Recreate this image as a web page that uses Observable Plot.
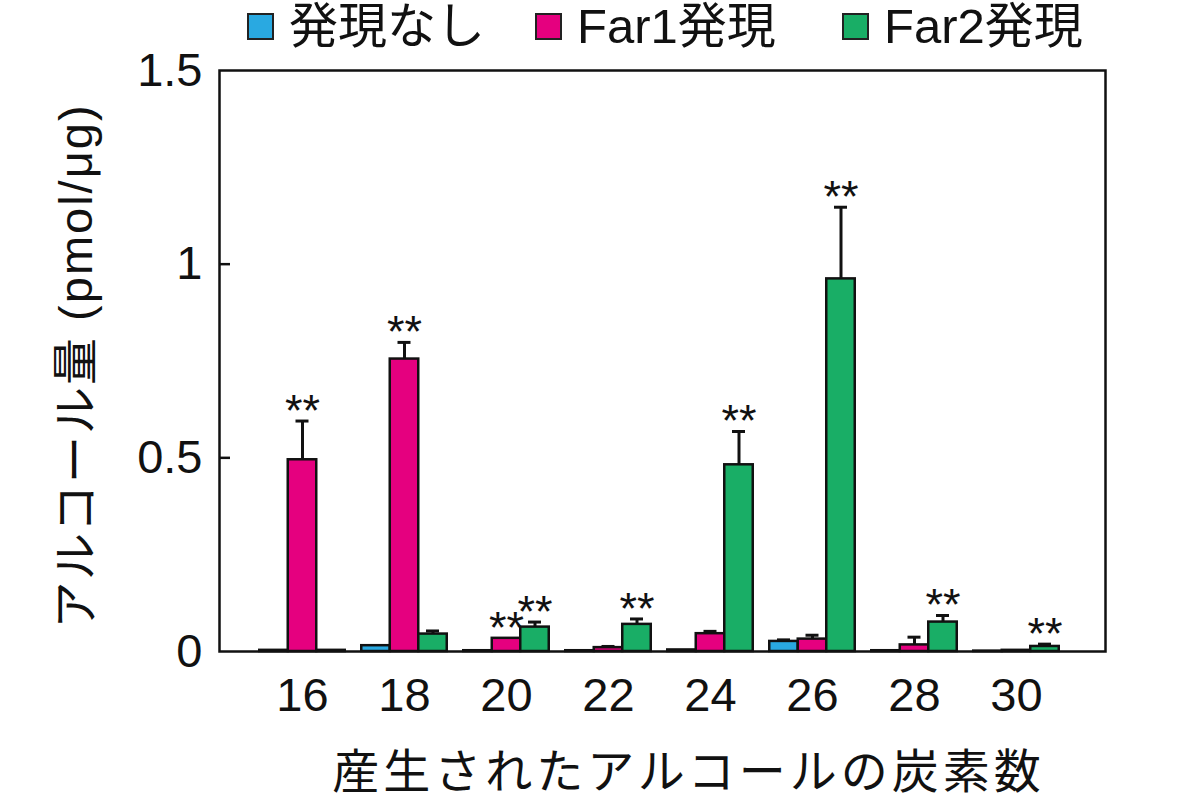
<!DOCTYPE html>
<html><head><meta charset="utf-8">
<script src="https://cdn.jsdelivr.net/npm/d3@7"></script>
<script src="https://cdn.jsdelivr.net/npm/@observablehq/plot@0.6"></script>
<style>
body{margin:0;background:#fff;font-family:"Liberation Sans","Noto Sans CJK JP",sans-serif;color:#111;}
#wrap{position:relative;width:1200px;height:800px;overflow:hidden;}
#legend{position:absolute;top:0;left:0;width:1200px;height:52px;z-index:2;}
.item{position:absolute;top:0;display:flex;align-items:center;height:52px;font-size:49px;line-height:52px;white-space:nowrap;}
.sw{width:23px;height:23px;border:2px solid #222;margin-right:15px;flex:none;}
#chart{position:absolute;top:40px;left:0;z-index:1;}
</style></head>
<body><div id="wrap"><div id="legend"></div><div id="chart"></div></div>
<script>
const groups = ["16","18","20","22","24","26","28","30"];
const seriesNames = ["発現なし","Far1発現","Far2発現"];
const seriesColors = ["#29a9e1","#e5007f","#19ae66"];
const noneValues = [0.003,0.015,0.002,0.002,0.004,0.026,0.002,0.001];
const noneErrors = [0,0,0,0,0,0.004,0,0];
const far1Values = [0.495,0.755,0.034,0.010,0.046,0.032,0.017,0.003];
const far1Errors = [0.100,0.043,0,0.003,0.006,0.010,0.020,0];
const far2Values = [0.003,0.045,0.063,0.070,0.482,0.962,0.076,0.013];
const far2Errors = [0,0.008,0.013,0.014,0.086,0.185,0.017,0.006];
const noneSig = ["","","","","","","",""];
const far1Sig = ["**","**","**","","","","",""];
const far2Sig = ["","","**","**","**","**","**","**"];
const yTicks = [0,0.5,1,1.5];
const yTitle = "アルコール量 (pmol/μg)";
const xTitle = "産生されたアルコールの炭素数";

const legendLeft = [247,535,842];
const leg = document.getElementById("legend");
seriesNames.forEach((n,i)=>{
  const it = document.createElement("div");
  it.className="item"; it.style.left=legendLeft[i]+"px";
  const sw = document.createElement("div"); sw.className="sw"; sw.style.background=seriesColors[i];
  const tx = document.createElement("span"); tx.textContent=n;
  it.appendChild(sw); it.appendChild(tx); leg.appendChild(it);
});

const valueSets=[noneValues,far1Values,far2Values];
const errSets=[noneErrors,far1Errors,far2Errors];
const sigSets=[noneSig,far1Sig,far2Sig];
const barW = 28.5, step = 102;
const inset = (step-barW)/2, capInset = (step-13)/2;
const marks = [];
valueSets.forEach((vals,s)=>{
  const rows = groups.map((g,i)=>({group:g,value:vals[i],err:errSets[s][i],sig:sigSets[s][i]}));
  const dx = (s-1)*barW;
  marks.push(Plot.barY(rows,{x:"group",y:"value",fill:seriesColors[s],stroke:"#111",strokeWidth:2.5,insetLeft:inset,insetRight:inset,dx}));
  const er = rows.filter(d=>d.err>0);
  marks.push(Plot.ruleX(er,{x:"group",y1:"value",y2:d=>d.value+d.err,dx,stroke:"#111",strokeWidth:3}));
  marks.push(Plot.tickY(er,{x:"group",y:d=>d.value+d.err,dx,insetLeft:capInset,insetRight:capInset,stroke:"#111",strokeWidth:3}));
  marks.push(Plot.text(rows.filter(d=>d.sig),{x:"group",y:d=>d.value+d.err,text:"sig",dx,dy:5,lineAnchor:"bottom",fontSize:45,fill:"#111"}));
});

const chart = Plot.plot({
  width:1200, height:760,
  marginTop:30, marginBottom:149, marginLeft:219, marginRight:95,
  style:{fontFamily:'"Liberation Sans","Noto Sans CJK JP",sans-serif',fontSize:"47px",color:"#111",background:"transparent"},
  x:{domain:groups,range:[251,251+step*groups.length],padding:0},
  y:{domain:[0,1.5]},
  marks:[
    ...marks,
    Plot.frame({stroke:"#111",strokeWidth:2.5}),
    Plot.axisY({ticks:yTicks,tickSize:0,tickPadding:17,tickFormat:d=>String(d),fontSize:47,label:null}),
    Plot.axisY({ticks:[0.5,1],tickSize:-11,tickFormat:()=>"",strokeWidth:2.5,label:null}),
    Plot.axisX({tickSize:0,tickPadding:26,fontSize:47,label:null}),
    Plot.text([yTitle],{frameAnchor:"left",textAnchor:"middle",dx:-143,dy:5,rotate:-90,fontSize:47,fill:"#111"}),
    Plot.text([xTitle],{frameAnchor:"bottom",textAnchor:"middle",dx:26,dy:136,fontSize:47,fill:"#111"})
  ]
});
document.getElementById("chart").appendChild(chart);
d3.select(chart).selectAll("text").filter(function(){return this.textContent===xTitle;}).style("letter-spacing","4px");
d3.select(chart).selectAll("text").filter(function(){return this.textContent===yTitle;}).style("letter-spacing","2px");
</script>
</body></html>
